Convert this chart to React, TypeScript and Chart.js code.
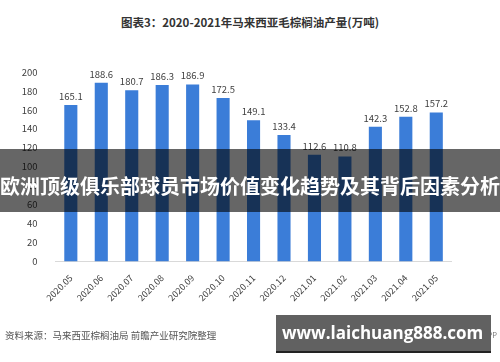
import React, { useEffect, useRef } from "react";
import { Chart, registerables } from "chart.js";

Chart.register(...registerables);

const title = "图表3：2020-2021年马来西亚毛棕榈油产量(万吨)";
const categories = [
  "2020.05", "2020.06", "2020.07", "2020.08", "2020.09", "2020.10", "2020.11",
  "2020.12", "2021.01", "2021.02", "2021.03", "2021.04", "2021.05",
];
const production = [165.1, 188.6, 180.7, 186.3, 186.9, 172.5, 149.1, 133.4, 112.6, 110.8, 142.3, 152.8, 157.2];
const yMin = 0;
const yMax = 200;
const yStep = 20;
const sourceNote = "资料来源：马来西亚棕榈油局 前瞻产业研究院整理";
const sourceRight = "前瞻经济学人APP";
const bannerText = "欧洲顶级俱乐部球员市场价值变化趋势及其背后因素分析";
const siteText = "www.laichuang888.com";

const FONT = '"Noto Sans CJK SC", "Noto Sans", sans-serif';

const valueLabels = {
  id: "valueLabels",
  afterDatasetsDraw(chart: any) {
    const ctx = chart.ctx;
    const meta = chart.getDatasetMeta(0);
    ctx.save();
    ctx.font = `9.5px ${FONT}`;
    ctx.fillStyle = "#404040";
    ctx.textAlign = "center";
    ctx.textBaseline = "bottom";
    meta.data.forEach((bar: any, i: number) => {
      const v = chart.data.datasets[0].data[i];
      ctx.fillText(String(v), bar.x, bar.y - 4);
    });
    ctx.restore();
  },
};

export default function App() {
  const ref = useRef<HTMLCanvasElement | null>(null);

  useEffect(() => {
    document.body.style.margin = "0";
    const chart = new Chart(ref.current as HTMLCanvasElement, {
      type: "bar",
      data: {
        labels: categories,
        datasets: [
          {
            data: production,
            backgroundColor: "#3B7DD8",
            categoryPercentage: 1,
            barPercentage: 0.43,
          },
        ],
      },
      options: {
        animation: false,
        responsive: false,
        devicePixelRatio: 1,
        layout: { padding: { left: 0, right: 48.5, top: 72, bottom: 40.5 } },
        plugins: {
          legend: { display: false },
          tooltip: { enabled: false },
          title: { display: false },
        },
        scales: {
          x: {
            grid: { display: false },
            border: { display: true, color: "#d9d9d9", width: 1 },
            ticks: {
              autoSkip: false,
              maxRotation: 45,
              minRotation: 45,
              padding: 3,
              color: "#404040",
              font: { size: 9, family: FONT },
            },
            afterFit: (s: any) => {
              s.height = 60;
            },
          },
          y: {
            min: yMin,
            max: yMax,
            grid: { display: false },
            border: { display: false },
            ticks: {
              stepSize: yStep,
              padding: 10,
              color: "#404040",
              font: { size: 9.5, family: FONT },
            },
            afterFit: (s: any) => {
              s.width = 55.6;
            },
          },
        },
      },
      plugins: [valueLabels],
    });
    return () => chart.destroy();
  }, []);

  return (
    <div style={{ position: "fixed", left: 0, top: 0, width: 500, height: 362, background: "#fff", overflow: "hidden", fontFamily: FONT }}>
      <div style={{ position: "absolute", left: 0, top: 14, width: 500, textAlign: "center", fontSize: 11.5, fontWeight: 700, color: "#333", lineHeight: "17px" }}>
        {title}
      </div>
      <canvas ref={ref} width={500} height={362} style={{ position: "absolute", left: 0, top: 0, width: 500, height: 362 }} />
      <div style={{ position: "absolute", left: 5, top: 328, fontSize: 9.5, color: "#555", lineHeight: "14px", whiteSpace: "nowrap" }}>
        {sourceNote}
      </div>
      <div style={{ position: "absolute", right: 3, top: 329, fontSize: 7.5, color: "#777", lineHeight: "12px", whiteSpace: "nowrap" }}>
        {sourceRight}
      </div>
      <div style={{ position: "absolute", left: 0, top: 149, width: 500, height: 63, background: "rgba(0,0,0,0.6)" }} />
      <div style={{ position: "absolute", left: -10, top: 172, width: 520, textAlign: "center", fontSize: 20, fontWeight: 700, color: "#fff", lineHeight: "28px", whiteSpace: "nowrap" }}>
        {bannerText}
      </div>
      <div style={{ position: "absolute", left: 276, top: 315, width: 215, height: 36, background: "#616161", borderBottom: "2px solid #222" }}>
        <div style={{ position: "absolute", left: 6, top: 0, fontFamily: '"Open Sans", sans-serif', fontWeight: 700, fontSize: 17, color: "#fff", lineHeight: "36px", whiteSpace: "nowrap" }}>
          {siteText}
        </div>
      </div>
    </div>
  );
}
